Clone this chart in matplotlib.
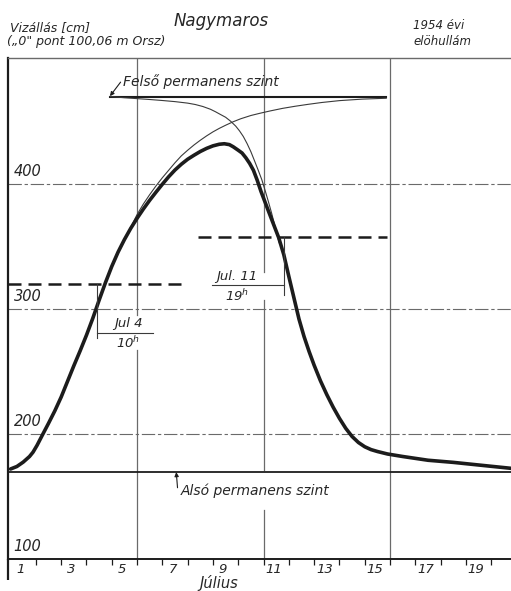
import matplotlib
matplotlib.use("Agg")
import matplotlib.pyplot as plt

# Nagymaros gauge, 1954 flood forerunner wave (water level in cm)
main_days = [0.0, 0.25, 0.5, 0.75, 0.89, 1.05, 1.28, 1.5, 1.75, 2.0, 2.27, 2.5,
             2.75, 3.0, 3.25, 3.5, 3.75, 4.0, 4.25, 4.5, 4.75, 5.0, 5.25, 5.5,
             5.75, 6.0, 6.25, 6.5, 6.75, 7.0, 7.25, 7.5, 7.75, 8.0, 8.25, 8.45,
             8.65, 8.8, 9.0, 9.15, 9.3, 9.45, 9.6, 9.75, 9.9, 10.05, 10.2, 10.4,
             10.6, 10.8, 11.0, 11.2, 11.4, 11.6, 11.8, 12.0, 12.25, 12.5, 12.75,
             13.0, 13.25, 13.5, 13.75, 14.0, 14.25, 14.5, 14.9, 15.5, 16.5, 17.5,
             18.5, 19.8]
main_level = [172, 174, 177.5, 182, 185.5, 191, 200, 208.5, 218.5, 229.5, 243, 254.5,
              266.5, 279, 292.5, 307, 321, 334, 345.5, 355.5, 364.5, 372.5, 380, 387,
              393.5, 399.8, 405.8, 411.2, 415.8, 419.8, 423, 426, 428.5, 430.5, 431.8, 432.2,
              431.5, 429.8, 427, 424.8, 421, 416.5, 411, 403, 394, 386, 378, 367.5,
              357, 343.5, 326, 309, 292, 278, 266, 255, 242.5, 231.5, 221.5,
              212.5, 204.5, 198, 193.2, 189.8, 187.5, 186, 184, 182, 179, 177.3,
              175.2, 172.5]

rise_days = [4.5, 4.75, 5.0, 5.25, 5.5, 5.75, 6.0, 6.25, 6.5, 6.75, 7.0, 7.25,
             7.5, 7.75, 8.0, 8.25, 8.5, 8.8, 9.1, 9.5, 9.86, 10.25, 10.75, 11.25,
             11.75, 12.3, 13.0, 13.9, 14.85]
rise_level = [355.5, 365.5, 375.5, 384, 391.5, 398.5, 405, 411, 417, 422.5, 427, 431.2,
              435, 438.5, 441.7, 444.5, 447, 449.8, 452.2, 454.8, 456.6, 458.4, 460.5, 462.2,
              463.7, 465.2, 466.7, 467.9, 468.6]

fall_days = [3.93, 4.5, 5.0, 5.5, 6.0, 6.5, 7.0, 7.3, 7.6, 7.9, 8.1, 8.28, 8.5,
             8.7, 8.9, 9.05, 9.2, 9.35, 9.5, 9.65, 9.79, 9.93, 10.06, 10.2, 10.32,
             10.42, 10.52, 10.62]
fall_level = [470, 469, 468.3, 467.6, 466.8, 465.9, 464.7, 463.6, 462, 459.8, 457.8, 455.8, 453.4,
              450.2, 446.3, 442.5, 438, 432.3, 425.8, 418.2, 411, 403.5, 395, 385.3, 376.6,
              368.7, 360.6, 353]

upper_level = 470     # Felső permanens szint
upper_span = (3.93, 14.85)
lower_level = 170     # Alsó permanens szint

dash_levels = [320, 358]
dash_spans = [(-0.1, 6.96), (7.42, 14.87)]

# crossing times: (label, day, hour)
crossings = [("Jul 4", 4, 10), ("Jul. 11", 11, 19)]

day_labels = ["1", "3", "5", "7", "9", "11", "13", "15", "17", "19"]
level_labels = [100, 200, 300, 400]
grid_levels = [200, 300, 400]

# vertical grid lines drawn as pieces, left open behind the annotations
grid_pieces = [(5, 295, 500.8), (5, 100, 267),
               (10, 329.5, 500.8), (10, 171, 307), (10, 100, 139),
               (15, 100, 500.8)]

ink = "#1c1c1c"
thin = "#3a3a3a"
grid_c = "#6a6a6a"
font = dict(family="DejaVu Sans", style="italic", color="#262626")

fig = plt.figure(figsize=(5.11, 5.91), dpi=100)
ax = fig.add_axes([8 / 511, 32 / 591, 503 / 511, 501 / 591])
ax.set_xlim(-0.1, 19.78)
ax.set_ylim(100, 500.8)

ax.spines["right"].set_visible(False)
ax.spines["top"].set_color(grid_c)
ax.spines["top"].set_linewidth(1.0)
ax.spines["left"].set_linewidth(1.6)
ax.spines["left"].set_color(ink)
ax.spines["bottom"].set_linewidth(1.4)
ax.spines["bottom"].set_color(ink)
# left axis runs a bit past the time axis
ax.plot([0, 0], [-0.042, 0], transform=ax.transAxes, color=ink, lw=1.6,
        clip_on=False, solid_capstyle="butt")

ax.set_xticks(range(1, 20))
ax.set_yticks([])
ax.tick_params(axis="x", direction="out", length=4, width=0.9, color=ink,
               labelbottom=False)

for lv in grid_levels:
    ax.axhline(lv, color=grid_c, lw=0.8, linestyle=(0, (12, 2.5, 3, 2.5)))
for x, y0, y1 in grid_pieces:
    ax.plot([x, x], [y0, y1], color=grid_c, lw=0.9)

ax.axhline(lower_level, color=ink, lw=1.3)
ax.plot(upper_span, [upper_level, upper_level], color=ink, lw=1.5)

for lv, (x0, x1) in zip(dash_levels, dash_spans):
    ax.plot([x0, x1], [lv, lv], color=ink, lw=1.8, dashes=(5.2, 2.8))

ax.plot(rise_days, rise_level, color=thin, lw=0.8, solid_joinstyle="round")
ax.plot(fall_days, fall_level, color=thin, lw=0.8, solid_joinstyle="round")
ax.plot(main_days, main_level, color=ink, lw=2.6, solid_capstyle="round",
        solid_joinstyle="round")

# crossing annotations
(lab1, d1, h1), (lab2, d2, h2) = crossings
t1 = d1 - 1 + h1 / 24
t2 = d2 - 1 + h2 / 24
ax.plot([t1, t1], [dash_levels[0], 277], color=thin, lw=0.8)
ax.plot([t1, t1 + 2.2], [281, 281], color=thin, lw=0.8)
ax.text(t1 + 1.25, 283, lab1, ha="center", va="bottom", fontsize=9.5, **font)
ax.text(t1 + 1.25, 279, "%d$^{h}$" % h1, ha="center", va="top", fontsize=9.5, **font)

ax.plot([t2, t2], [dash_levels[1], 311], color=thin, lw=0.8)
ax.plot([t2 - 2.83, t2], [319, 319], color=thin, lw=0.8)
ax.text(t2 - 1.85, 321, lab2, ha="center", va="bottom", fontsize=9.5, **font)
ax.text(t2 - 1.85, 317, "%d$^{h}$" % h2, ha="center", va="top", fontsize=9.5, **font)

# level names with arrows
ax.text(4.45, 478.5, "Felső permanens szint", ha="left", va="baseline",
        fontsize=10, **font)
ax.annotate("", xy=(3.93, 470.3), xytext=(4.35, 481.5),
            arrowprops=dict(arrowstyle="-|>", lw=0.8, color=ink, mutation_scale=6,
                            shrinkA=0, shrinkB=0))
ax.text(6.72, 151.5, "Alsó permanens szint", ha="left", va="baseline",
        fontsize=10, **font)
ax.annotate("", xy=(6.55, 169.5), xytext=(6.6, 157),
            arrowprops=dict(arrowstyle="-|>", lw=0.8, color=ink, mutation_scale=6,
                            shrinkA=0, shrinkB=0))

for lv in level_labels:
    ax.text(0.12, lv + 4, str(lv), ha="left", va="bottom", fontsize=10.5, **font)

for lab in day_labels:
    ax.text(int(lab) - 0.6, -0.008, lab, ha="center", va="top", fontsize=9.5,
            transform=ax.get_xaxis_transform(), **font)

# header and footer
W, H = 511, 591
fig.text(219 / W, 1 - 588 / H, "Július", ha="center", va="baseline",
         fontsize=10.5, **font)
fig.text(10 / W, 1 - 31 / H, "Vizállás [cm]", ha="left", va="baseline",
         fontsize=9, **font)
fig.text(7 / W, 1 - 45 / H, "(„0\" pont 100,06 m Orsz)", ha="left", va="baseline",
         fontsize=9, **font)
fig.text(221 / W, 1 - 26 / H, "Nagymaros", ha="center", va="baseline",
         fontsize=12, **font)
fig.text(413 / W, 1 - 29 / H, "1954 évi", ha="left", va="baseline",
         fontsize=8.5, **font)
fig.text(413 / W, 1 - 45 / H, "elöhullám", ha="left", va="baseline",
         fontsize=8.5, **font)

fig.savefig("out.png", dpi=100, facecolor="white")
